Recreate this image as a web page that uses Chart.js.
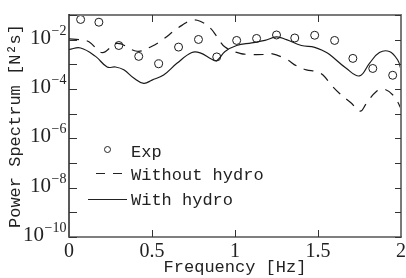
<!DOCTYPE html>
<html>
<head>
<meta charset="utf-8">
<script src="https://cdn.jsdelivr.net/npm/chart.js@4.4.0/dist/chart.umd.min.js"></script>
<style>
    html, body { margin: 0; padding: 0; background: #fff; }
</style>
</head>
<body>
<canvas id="spectrum-chart" width="406" height="278"></canvas>
<script>
// Experimental points (circles)
const expFreq = [0.07, 0.18, 0.30, 0.42, 0.54, 0.66, 0.78, 0.89, 1.01, 1.13, 1.25, 1.36, 1.48, 1.60, 1.71, 1.83, 1.95];
const expPower = [6.6e-2, 5.1e-2, 5.8e-3, 2.1e-3, 1.05e-3, 5.0e-3, 1.02e-2, 2.0e-3, 9.3e-3, 1.12e-2, 1.55e-2, 1.17e-2, 1.51e-2, 9.3e-3, 1.74e-3, 6.8e-4, 3.6e-4];

// Simulation without hydrodynamic terms (dashed)
const withoutFreq = [0, 0.06, 0.12, 0.20, 0.29, 0.41, 0.50, 0.57, 0.63, 0.68, 0.74, 0.79, 0.85, 0.89, 0.94, 1.03, 1.10, 1.17, 1.22, 1.31, 1.37, 1.43, 1.49, 1.53, 1.58, 1.63, 1.70, 1.755, 1.79, 1.85, 1.90, 1.96, 2.0];
const withoutPower = [1.07e-2, 1.0e-2, 8.3e-3, 3.0e-3, 7.1e-3, 3.4e-3, 5.4e-3, 1.07e-2, 2.2e-2, 3.8e-2, 6.2e-2, 5.6e-2, 3.0e-2, 1.35e-2, 5.0e-3, 2.8e-3, 2.5e-3, 2.5e-3, 2.7e-3, 1.6e-3, 8.7e-4, 6.0e-4, 5.1e-4, 3.7e-4, 1.45e-4, 6.6e-5, 2.7e-5, 1.26e-5, 2.5e-5, 7.8e-5, 9.8e-5, 4.9e-5, 1.6e-5];

// Simulation with hydrodynamic terms (solid)
const withFreq = [0, 0.07, 0.16, 0.23, 0.28, 0.33, 0.39, 0.45, 0.50, 0.57, 0.65, 0.74, 0.79, 0.86, 0.89, 0.94, 1.01, 1.10, 1.18, 1.25, 1.31, 1.40, 1.48, 1.54, 1.57, 1.67, 1.75, 1.81, 1.87, 1.93, 1.98, 2.0];
const withPower = [4.0e-3, 4.6e-3, 2.1e-3, 7.8e-4, 7.8e-4, 6.0e-4, 2.8e-4, 1.7e-4, 2.3e-4, 3.7e-4, 1.1e-3, 3.0e-3, 2.9e-3, 1.6e-3, 1.4e-3, 3.3e-3, 5.8e-3, 7.4e-3, 9.3e-3, 1.3e-2, 1.0e-2, 5.8e-3, 4.9e-3, 3.3e-3, 2.5e-3, 6.9e-4, 3.4e-4, 1.1e-3, 3.0e-3, 3.3e-3, 1.5e-3, 6.3e-4];

// Axis ticks
const xTickValues = [0, 0.5, 1, 1.5, 2];
const xTickLabels = ['0', '0.5', '1', '1.5', '2'];
const yTickValues = [1e-10, 1e-9, 1e-8, 1e-7, 1e-6, 1e-5, 1e-4, 1e-3, 1e-2, 1e-1];
const yTickExponents = ['-10', '', '-8', '', '-6', '', '-4', '', '-2', ''];

const toPoints = (xs, ys) => xs.map((x, i) => ({ x: x, y: ys[i] }));

const SERIF = '"Liberation Serif", "DejaVu Serif", serif';
const MONO = '"Liberation Mono", "DejaVu Sans Mono", monospace';

function seg(ctx, x1, y1, x2, y2) {
    ctx.beginPath();
    ctx.moveTo(x1, y1);
    ctx.lineTo(x2, y2);
    ctx.stroke();
}

// Frame, inward ticks, superscript y labels and the legend box
const framePlugin = {
    id: 'frame',
    afterDraw(chart) {
        const ctx = chart.ctx;
        const { left, right, top, bottom } = chart.chartArea;
        const xs = chart.scales.x, ys = chart.scales.y;
        ctx.save();

        // border
        ctx.lineWidth = 2;
        ctx.strokeStyle = '#7a7a7a';
        seg(ctx, left, top, right + 1, top);
        seg(ctx, right, top, right, bottom);
        ctx.lineWidth = 1.5;
        ctx.strokeStyle = '#222';
        seg(ctx, left, top - 1, left, bottom + 0.75);
        ctx.strokeStyle = '#555';
        seg(ctx, left, bottom, right + 1, bottom);

        // ticks
        ctx.lineWidth = 1;
        ctx.strokeStyle = '#333';
        yTickValues.forEach(v => {
            const py = Math.round(ys.getPixelForValue(v)) + 0.5;
            seg(ctx, left, py, left + 8, py);
            seg(ctx, right - 6, py, right, py);
        });
        xTickValues.slice(1, -1).forEach(v => {
            const px = Math.round(xs.getPixelForValue(v)) + 0.5;
            seg(ctx, px, top, px, top + 7);
            seg(ctx, px, bottom, px, bottom - 7);
        });

        // y labels 10^n
        ctx.fillStyle = '#222';
        ctx.textBaseline = 'alphabetic';
        ctx.textAlign = 'left';
        yTickValues.forEach((v, i) => {
            const ex = yTickExponents[i];
            if (!ex) return;
            const py = ys.getPixelForValue(v);
            const sup = ex.replace('-', '\u2212');
            ctx.font = '14px ' + SERIF;
            const supW = ctx.measureText(sup).width;
            ctx.font = '21px ' + SERIF;
            const baseW = ctx.measureText('10').width;
            const x0 = left - 3 - supW - baseW;
            ctx.fillText('10', x0, py + 4);
            ctx.font = '14px ' + SERIF;
            ctx.fillText(sup, x0 + baseW + 0.5, py - 5);
        });

        // legend
        const ds = chart.data.datasets;
        ctx.font = '17px ' + MONO;
        ctx.fillStyle = '#222';
        ctx.strokeStyle = '#222';
        ctx.lineWidth = 1;
        ctx.beginPath();
        ctx.arc(107.5, 149.5, 3, 0, Math.PI * 2);
        ctx.stroke();
        ctx.fillText(ds[0].label, 131, 157);
        ctx.lineWidth = 1.2;
        ctx.setLineDash([9, 8]);
        seg(ctx, 96, 173.5, 124, 173.5);
        ctx.setLineDash([]);
        ctx.fillText(ds[1].label, 131, 180);
        seg(ctx, 88, 199.5, 127, 199.5);
        ctx.fillText(ds[2].label, 131, 205);

        ctx.restore();
    }
};

const ctx = document.getElementById('spectrum-chart').getContext('2d');
const spectrumChart = new Chart(ctx, {
    type: 'line',
    data: {
        datasets: [
            {
                label: 'Exp',
                data: toPoints(expFreq, expPower),
                showLine: false,
                pointStyle: 'circle',
                pointRadius: 4,
                pointBorderWidth: 1,
                borderColor: '#1a1a1a',
                backgroundColor: 'rgba(0,0,0,0)',
            },
            {
                label: 'Without hydro',
                data: toPoints(withoutFreq, withoutPower),
                borderColor: '#1a1a1a',
                borderWidth: 1.2,
                borderDash: [10, 8],
                tension: 0.4,
                pointRadius: 0,
            },
            {
                label: 'With hydro',
                data: toPoints(withFreq, withPower),
                borderColor: '#1a1a1a',
                borderWidth: 1.2,
                tension: 0.4,
                pointRadius: 0,
            }
        ]
    },
    options: {
        responsive: false,
        animation: false,
        devicePixelRatio: 1,
        layout: { padding: { top: 15, right: 4, left: 0, bottom: 0 } },
        plugins: {
            legend: { display: false },
            tooltip: { enabled: false }
        },
        scales: {
            x: {
                type: 'linear',
                min: 0,
                max: 2,
                afterBuildTicks: s => { s.ticks = xTickValues.map(v => ({ value: v })); },
                afterFit: s => { s.height = 41; s.paddingLeft = 0; s.paddingRight = 0; },
                grid: { display: false, drawTicks: false },
                border: { display: false },
                ticks: {
                    padding: 3,
                    color: '#222',
                    font: { family: SERIF, size: 20 },
                    maxRotation: 0,
                    autoSkip: false,
                    callback: (v, i) => xTickLabels[i]
                },
                title: {
                    display: true,
                    text: 'Frequency [Hz]',
                    color: '#222',
                    font: { family: MONO, size: 17 },
                    padding: { top: 0, bottom: 0 }
                }
            },
            y: {
                type: 'logarithmic',
                min: 1e-10,
                max: 1e-1,
                afterBuildTicks: s => { s.ticks = yTickValues.map(v => ({ value: v })); },
                afterFit: s => { s.width = 69; },
                grid: { display: false, drawTicks: false },
                border: { display: false },
                ticks: { display: false },
                title: {
                    display: true,
                    text: 'Power Spectrum [N²s]',
                    color: '#222',
                    font: { family: MONO, size: 17 },
                    padding: { top: 5, bottom: 0 }
                }
            }
        }
    },
    plugins: [framePlugin]
});
</script>
</body>
</html>
